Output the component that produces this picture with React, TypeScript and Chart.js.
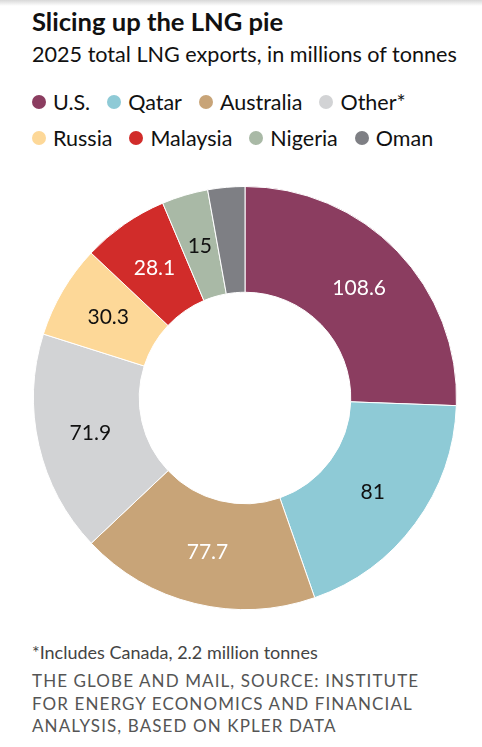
import React, { useEffect, useRef } from "react";
import { Chart, registerables } from "chart.js";

Chart.register(...registerables);

const categories = ["U.S.", "Qatar", "Australia", "Other*", "Russia", "Malaysia", "Nigeria", "Oman"];
const exportsMt = [108.6, 81, 77.7, 71.9, 30.3, 28.1, 15, 12];
const sliceLabels = ["108.6", "81", "77.7", "71.9", "30.3", "28.1", "15", ""];
const colors = ["#8b3d60", "#8ecad6", "#c8a478", "#d2d3d5", "#fdd898", "#d12c2a", "#a9b9a6", "#7e7f84"];
const labelColors = ["#ffffff", "#111111", "#ffffff", "#111111", "#111111", "#ffffff", "#111111", "#111111"];
const legendRows = [[0, 1, 2, 3], [4, 5, 6, 7]];
const sourceLines = [
  "THE GLOBE AND MAIL, SOURCE: INSTITUTE",
  "FOR ENERGY ECONOMICS AND FINANCIAL",
  "ANALYSIS, BASED ON KPLER DATA",
];

const FONT = "Lato, 'Noto Sans', sans-serif";

const sliceLabelPlugin = {
  id: "sliceLabels",
  afterDatasetsDraw(chart: any) {
    const ctx = chart.ctx;
    const meta = chart.getDatasetMeta(0);
    ctx.save();
    ctx.font = `21px ${FONT}`;
    ctx.textAlign = "center";
    ctx.textBaseline = "middle";
    meta.data.forEach((arc: any, i: number) => {
      const txt = sliceLabels[i];
      if (!txt) return;
      const p = arc.tooltipPosition();
      ctx.fillStyle = labelColors[i];
      ctx.fillText(txt, p.x, p.y);
    });
    ctx.restore();
  },
};

export default function App() {
  const ref = useRef<HTMLCanvasElement | null>(null);
  useEffect(() => {
    if (!ref.current) return;
    const chart = new Chart(ref.current, {
      type: "doughnut",
      data: {
        labels: categories,
        datasets: [
          {
            data: exportsMt,
            backgroundColor: colors,
            borderColor: "#ffffff",
            borderWidth: 1,
          },
        ],
      },
      options: {
        animation: false,
        responsive: false,
        maintainAspectRatio: false,
        cutout: "50%",
        layout: { padding: { left: 8, right: 0, top: 3, bottom: 3 } },
        plugins: { legend: { display: false }, tooltip: { enabled: false } },
      },
      plugins: [sliceLabelPlugin],
    });
    return () => chart.destroy();
  }, []);

  return (
    <div style={{ position: "fixed", left: 0, top: 0, width: 482, height: 747, background: "#fff", overflow: "hidden", fontFamily: FONT }}>
      <div style={{ position: "absolute", left: 0, top: 0, width: 482, height: 6, background: "linear-gradient(#d8d8d8, #ffffff)" }} />
      <div style={{ position: "absolute", left: 32, top: 6, fontSize: 25.6, fontWeight: 700, color: "#111", whiteSpace: "nowrap" }}>
        Slicing up the LNG pie
      </div>
      <div style={{ position: "absolute", left: 32, top: 41, fontSize: 21.6, color: "#111", whiteSpace: "nowrap" }}>
        2025 total LNG exports, in millions of tonnes
      </div>
      {legendRows.map((row, r) => (
        <div key={r} style={{ position: "absolute", left: 32, top: 88 + r * 36, height: 28, display: "flex", alignItems: "center", whiteSpace: "nowrap" }}>
          {row.map((i) => (
            <div key={i} style={{ display: "flex", alignItems: "center", marginRight: 17 }}>
              <span style={{ width: 14, height: 14, borderRadius: 7, background: colors[i], display: "inline-block", marginRight: 7 }} />
              <span style={{ fontSize: 21.5, color: "#111" }}>{categories[i]}</span>
            </div>
          ))}
        </div>
      ))}
      <canvas ref={ref} width={482} height={430} style={{ position: "absolute", left: 0, top: 183, width: 482, height: 430 }} />
      <div style={{ position: "absolute", left: 32, top: 641, fontSize: 18, color: "#444", whiteSpace: "nowrap" }}>
        *Includes Canada, 2.2 million tonnes
      </div>
      <div style={{ position: "absolute", left: 32, top: 670, fontSize: 17, lineHeight: "22.5px", color: "#555", letterSpacing: 1.1, whiteSpace: "nowrap" }}>
        {sourceLines.map((l, i) => (
          <div key={i}>{l}</div>
        ))}
      </div>
    </div>
  );
}
